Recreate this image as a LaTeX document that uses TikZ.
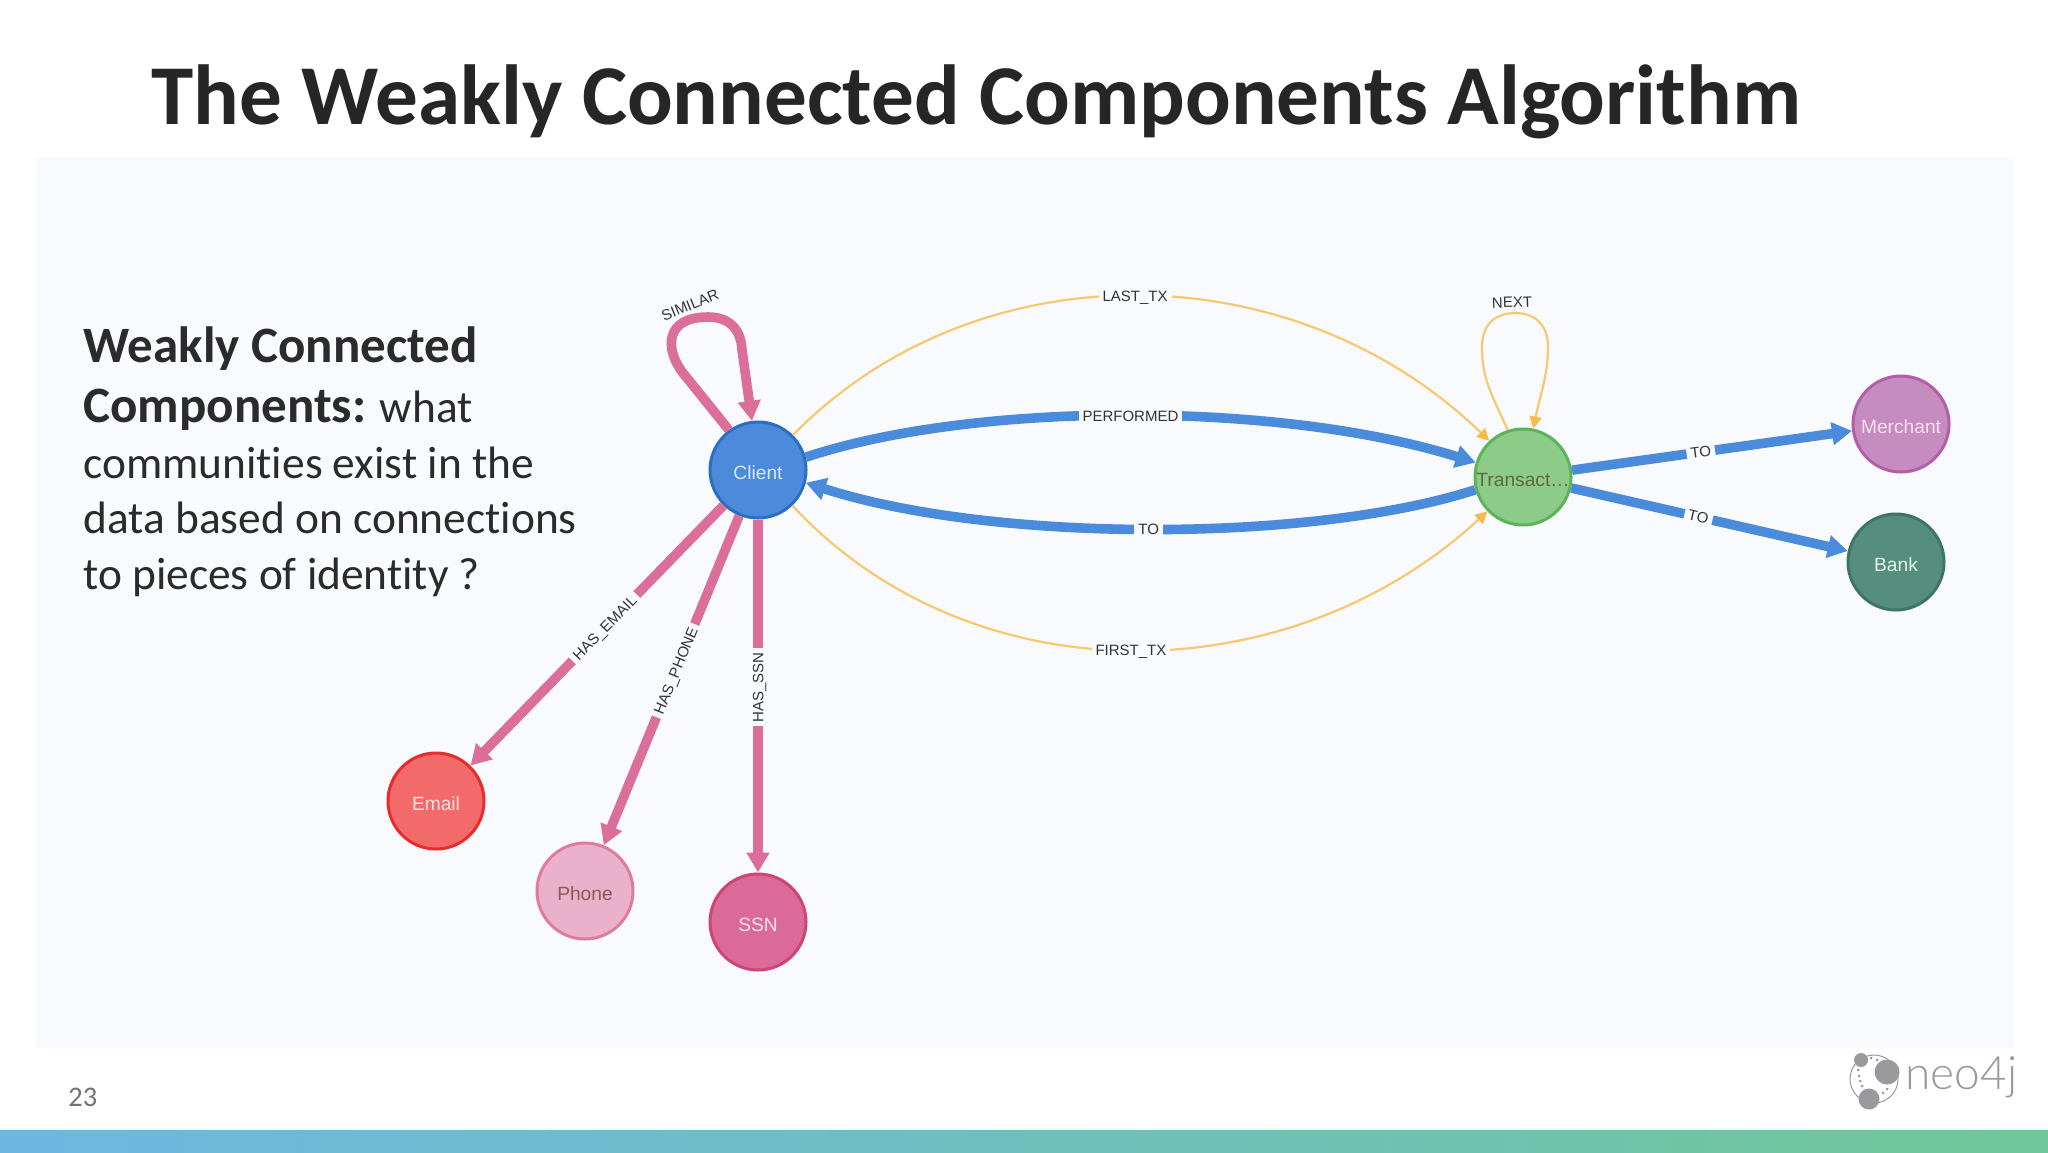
\documentclass[tikz,border=0pt]{standalone}
\usepackage{fontspec}
\setmainfont[Ligatures=NoCommon]{Carlito}
\newfontfamily\lblfont{Liberation Sans}
\newfontfamily\logofont{Lato Light}
\usetikzlibrary{arrows.meta}
\definecolor{panel}{HTML}{F9FAFE}
\definecolor{barleft}{HTML}{6CB7E2}
\definecolor{barright}{HTML}{6FC899}
\definecolor{pinkedge}{HTML}{DC6E9A}
\definecolor{blueedge}{HTML}{4A8BDC}
\definecolor{orangeedge}{HTML}{F8C870}
\definecolor{orangetip}{HTML}{F8B948}
\definecolor{titlecol}{HTML}{262626}
\definecolor{bodycol}{HTML}{2B2B2B}
\definecolor{logogrey}{HTML}{9A9A9E}
\definecolor{cf}{HTML}{4C8BDB}\definecolor{cd}{HTML}{2A6FC0}\definecolor{ct}{HTML}{D9E8FB}
\definecolor{tf}{HTML}{8CCB88}\definecolor{td}{HTML}{5CB35A}\definecolor{tt}{HTML}{5E6A3A}
\definecolor{mf}{HTML}{C68CBF}\definecolor{md}{HTML}{B25EA8}\definecolor{mt}{HTML}{F8E0F4}
\definecolor{bf}{HTML}{558E7C}\definecolor{bd}{HTML}{3E7564}\definecolor{bt}{HTML}{E4F2EC}
\definecolor{ef}{HTML}{F26A6A}\definecolor{ed}{HTML}{E82C2C}\definecolor{et}{HTML}{FFE0E0}
\definecolor{pf}{HTML}{EBB0CA}\definecolor{pd}{HTML}{DC7DA0}\definecolor{pt}{HTML}{8A5A5A}
\definecolor{sf}{HTML}{DB6A98}\definecolor{sd}{HTML}{CC4479}\definecolor{st}{HTML}{FBE3EC}
\newcommand{\gtxt}[1]{\raisebox{-4.7pt}[0pt][0pt]{#1}}
\tikzset{
  x=0.5pt,y=-0.5pt,
  gnode/.style={circle,inner sep=0pt,minimum size=48pt,line width=1.5pt,font=\lblfont\fontsize{9.6}{11}\selectfont},
  pinkrel/.style={draw=pinkedge,line width=4.8pt,-{Triangle[length=10pt,width=11pt]}},
  bluerel/.style={draw=blueedge,line width=4.8pt,-{Triangle[length=10pt,width=11pt]}},
  orangerel/.style={draw=orangeedge,line width=1.1pt,-{Triangle[length=6pt,width=6pt,fill=orangetip,color=orangetip]}},
  rellabel/.style={fill=panel,inner xsep=2pt,inner ysep=1pt,text height=5.4pt,text depth=0pt,text=black!80,font=\lblfont\fontsize{7.5}{9}\selectfont},
  bodytext/.style={anchor=base west,inner sep=0pt,text=bodycol,font=\fontsize{22.7}{25}\selectfont},
  bodybold/.style={font=\bfseries\fontsize{25.5}{28}\selectfont},
  logodot/.style={fill=logogrey,draw=none,circle,inner sep=0pt},
}
\begin{document}
\begin{tikzpicture}
\useasboundingbox (0,0) rectangle (2048,1152);
\fill[white] (0,0) rectangle (2048,1152);
\fill[panel] (36,157) rectangle (2014,1048);
\shade[left color=barleft, right color=barright] (0,1130) rectangle (2048,1152);

\node[anchor=base west,inner sep=0pt,text=titlecol,font=\bfseries\fontsize{42.6}{50}\selectfont] (title) at (151,124) {The Weakly Connected Components Algorithm};

\node[bodytext,bodybold] (l1) at (83,362) {Weakly Connected};
\node[bodytext] (l2) at (83,422) {{\bfseries\fontsize{25.5}{28}\selectfont Components:} what};
\node[bodytext] (l3) at (83,478) {communities exist in the};
\node[bodytext] (l4) at (83,533) {data based on connections};
\node[bodytext] (l5) at (83,589) {to pieces of identity ?};

\node[anchor=base west,inner sep=0pt,text=black!55,font=\fontsize{14.2}{16}\selectfont] (page) at (68,1106) {23};

% graph nodes
\node[gnode,fill=cf,draw=cd,text=ct] (client) at (758,470) {\gtxt{Client}};
\node[gnode,fill=tf,draw=td,text=tt] (tx) at (1523,477) {\gtxt{Transact…}};
\node[gnode,fill=mf,draw=md,text=mt] (merchant) at (1901,424) {\gtxt{Merchant}};
\node[gnode,fill=bf,draw=bd,text=bt] (bank) at (1896,562) {\gtxt{Bank}};
\node[gnode,fill=ef,draw=ed,text=et] (email) at (436,801) {\gtxt{Email}};
\node[gnode,fill=pf,draw=pd,text=pt] (phone) at (585,891) {\gtxt{Phone}};
\node[gnode,fill=sf,draw=sd,text=st] (ssn) at (758,922) {\gtxt{SSN}};

% pink relations
\draw[pinkrel] (client) -- node[rellabel,sloped,pos=.47] (lemail) {HAS\_EMAIL} (email);
\draw[pinkrel] (client) -- node[rellabel,sloped,pos=.47] (lphone) {HAS\_PHONE} (phone);
\draw[pinkrel] (client) -- node[rellabel,rotate=90,pos=.475] (lssn) {HAS\_SSN} (ssn);
\draw[pinkrel] (client.126) -- (683,373) .. controls (665,350) and (664,317) .. (708,317) .. controls (730,317) and (741,330) .. (742,350) -- (client.97);
\node[rellabel,fill=none,rotate=22] (lsimilar) at (690,305) {SIMILAR};

% blue relations
\draw[bluerel] (client.15) .. controls (975,401) and (1279,401) .. node[rellabel,pos=.5] (lperf) {PERFORMED} (tx.163);
\draw[bluerel] (tx.195) .. controls (1310,543) and (993,543) .. node[rellabel,pos=.5] (lto) {TO} (client.-15);
\draw[bluerel] (tx) -- node[rellabel,sloped,pos=.46] (lto2) {TO} (merchant);
\draw[bluerel] (tx) -- node[rellabel,sloped,pos=.46] (lto3) {TO} (bank);

% orange relations
\draw[orangerel] (client.45) .. controls (975,249) and (1291,249) .. node[rellabel,pos=.5] (llast) {LAST\_TX} (tx.133);
\draw[orangerel] (client.-46) .. controls (970,697) and (1286,697) .. node[rellabel,pos=.5] (lfirst) {FIRST\_TX} (tx.-136);
\draw[orangerel] (tx.108) .. controls (1492,395) and (1482,380) .. (1482,347) .. controls (1482,322) and (1498,313) .. (1515,313) .. controls (1532,313) and (1548,322) .. (1548,347) .. controls (1548,375) and (1540,395) .. (tx.78);
\node[rellabel,fill=none,rotate=2] (lnext) at (1512,302) {NEXT};

% logo
\draw[logogrey,line width=0.5pt] (1874,1079) circle (24);
\node[logodot,minimum size=7pt] (lg1) at (1861,1060) {};
\node[logodot,minimum size=12.5pt] (lg2) at (1887,1072) {};
\node[logodot,minimum size=10.5pt] (lg3) at (1869,1099) {};
\foreach \dx/\dy [count=\i] in {1871/1058,1877/1060,1858/1070,1859/1076,1860/1081,1862/1086,1883/1093,1887/1089}
  \node[logodot,minimum size=1.5pt] (ld\i) at (\dx,\dy) {};
\node[anchor=base west,inner sep=0pt,text=logogrey,font=\logofont\fontsize{23}{26}\selectfont] (neo) at (1905,1089) {neo4j};
\end{tikzpicture}
\end{document}
